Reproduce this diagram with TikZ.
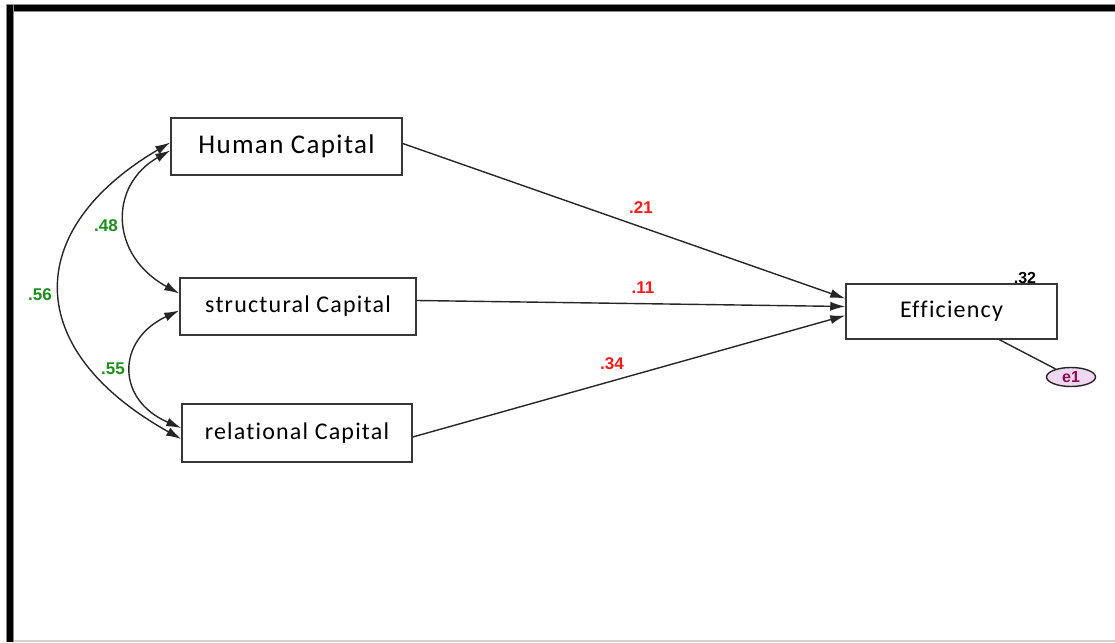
\documentclass[tikz,border=0pt]{standalone}
\usepackage{fontspec}
\setmainfont{Carlito}
\newfontfamily\numfont{Liberation Sans}
\newfontfamily\boxfont[LetterSpace=5,Ligatures=NoCommon]{Carlito}
\usetikzlibrary{arrows.meta,calc,shapes.geometric}
\definecolor{cred}{RGB}{255,25,25}
\definecolor{cgreen}{RGB}{30,140,30}
\definecolor{emag}{RGB}{140,10,80}
\definecolor{efill}{RGB}{240,215,240}
\definecolor{boxline}{RGB}{55,55,55}
\tikzset{
  varbox/.style={draw=boxline, line width=1.5pt, fill=white, inner sep=0pt, anchor=center,
    font=\boxfont\fontsize{24}{28}\selectfont},
  path/.style={draw=black!85, line width=1.4pt, -{Latex[length=15pt,width=9pt]}},
  cov/.style={draw=black!85, line width=1.4pt, {Latex[length=15pt,width=9pt]}-{Latex[length=15pt,width=9pt]}},
  pathlbl/.style={text=cred, font=\numfont\bfseries\fontsize{17}{19}\selectfont, inner sep=0pt},
  covlbl/.style={text=cgreen, font=\numfont\bfseries\fontsize{17}{19}\selectfont, inner sep=0pt},
}
\begin{document}
\begin{tikzpicture}[x=1pt,y=-1pt]
\useasboundingbox (0,0) rectangle (1115,642);
% frame
\fill[black!45] (6,3.8) rectangle (1115,11.6);
\fill[black] (7,4.6) rectangle (1115,10.8);
\fill[black!45] (6,3.8) rectangle (14,642);
\fill[black] (7,4.6) rectangle (13,642);
\fill[black!18] (14,639.6) rectangle (1115,642);
% variables
\node[varbox, minimum width=231pt, minimum height=57pt] (hc) at (286.5,146.5)
  {\fontsize{27}{30}\selectfont Human Capital};
\node[varbox, minimum width=236pt, minimum height=57pt] (sc) at (298,306.5) {structural Capital};
\node[varbox, minimum width=230pt, minimum height=58pt] (rc) at (297,433) {relational Capital};
\node[varbox, minimum width=211pt, minimum height=55pt] (eff) at (951.5,311.5) {Efficiency};
\node[ellipse, draw=black!85, line width=1.4pt, fill=efill, minimum width=49pt, minimum height=19pt,
  inner sep=0pt, text=emag, font=\numfont\bfseries\fontsize{16}{18}\selectfont] (e1) at (1071,377) {e1};
% regression paths
\draw[path] ($(hc.east)+(0,-3)$) -- ($(eff.west)+(0,-13)$);
\draw[path] ($(sc.east)+(0,-6)$) -- ($(eff.west)+(0,-5)$);
\draw[path] ($(rc.east)+(0,4)$) -- ($(eff.west)+(0,4)$);
\draw[draw=black!85, line width=1.4pt] ($(eff.south)+(48,0)$) -- (e1);
% covariances
\draw[cov] ($(hc.west)+(0,-4)$) .. controls (22,230) and (22,350) .. ($(rc.west)+(0,6)$);
\draw[cov] ($(hc.west)+(0,4)$) .. controls (109,185) and (109,255) .. ($(sc.west)+(0,-13)$);
\draw[cov] ($(sc.west)+(0,4)$) .. controls (116,340) and (116,400) .. ($(rc.west)+(0,-5)$);
% labels
\node[pathlbl] (l21) at (641,208) {.21};
\node[pathlbl] (l11) at (643,288) {.11};
\node[pathlbl] (l34) at (612,364) {.34};
\node[covlbl] (l56) at (40,295) {.56};
\node[covlbl] (l48) at (106,226) {.48};
\node[covlbl] (l55) at (113,369) {.55};
\node[inner sep=0pt, font=\numfont\bfseries\fontsize{16}{18}\selectfont] (r2) at (1025,278) {.32};
\end{tikzpicture}
\end{document}
